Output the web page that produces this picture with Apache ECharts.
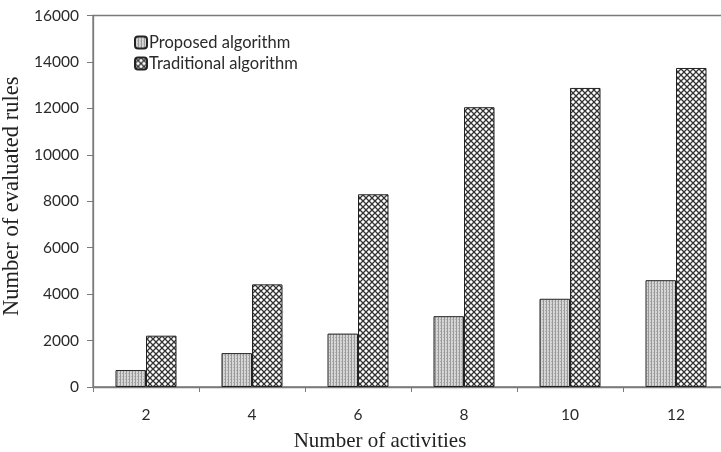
<!DOCTYPE html>
<html>
<head>
<meta charset="utf-8">
<script src="https://cdn.jsdelivr.net/npm/echarts@6/dist/echarts.min.js"></script>
<style>
html,body{margin:0;padding:0;background:#fff;}
#chart{width:721px;height:452px;}
</style>
</head>
<body>
<div id="chart"></div>
<script>
const categories = ['2', '4', '6', '8', '10', '12'];
const proposed = [730, 1460, 2300, 3050, 3800, 4600];
const traditional = [2210, 4420, 8300, 12050, 12880, 13740];
const seriesNames = ['Proposed algorithm', 'Traditional algorithm'];
const yTicks = { min: 0, max: 16000, interval: 2000 };

function makeStipple() {
  const c = document.createElement('canvas');
  c.width = 3; c.height = 3;
  const g = c.getContext('2d');
  g.fillStyle = '#d6d6d6';
  g.fillRect(0, 0, 3, 3);
  g.fillStyle = '#999999';
  g.fillRect(0, 0, 1, 3);
  g.fillStyle = '#b0b0b0';
  g.fillRect(2, 1, 1, 1);
  return c;
}
function makeCross() {
  const s = 6;
  const c = document.createElement('canvas');
  c.width = s; c.height = s;
  const g = c.getContext('2d');
  g.fillStyle = '#ffffff';
  g.fillRect(0, 0, s, s);
  g.strokeStyle = '#333333';
  g.lineWidth = 1.3;
  for (let k = -1; k <= 1; k++) {
    g.beginPath();
    g.moveTo(k * s, 0); g.lineTo(k * s + s, s);
    g.moveTo(k * s + s, 0); g.lineTo(k * s, s);
    g.stroke();
  }
  return c;
}

const chart = echarts.init(document.getElementById('chart'));
const axisGray = '#7a7a7a';
chart.setOption({
  backgroundColor: '#ffffff',
  animation: false,
  grid: {
    left: 93, width: 636, top: 15.5, bottom: 65,
    containLabel: false, outerBoundsMode: 'none',
    show: true, borderColor: axisGray, borderWidth: 1.3, backgroundColor: 'transparent'
  },
  legend: {
    orient: 'vertical',
    left: 134, top: 34, padding: 0,
    itemWidth: 12, itemHeight: 12, itemGap: 4,
    data: seriesNames,
    textStyle: { fontFamily: 'Lato', fontSize: 16.5, color: '#2a2a2a', padding: [0, 0, 0, -3] }
  },
  xAxis: {
    type: 'category',
    data: categories,
    name: 'Number of activities',
    nameLocation: 'middle',
    nameGap: 44,
    nameTextStyle: { fontFamily: 'Liberation Serif', fontSize: 21, color: '#222', padding: [0, 62, 0, 0] },
    axisLine: { lineStyle: { color: axisGray, width: 1.3 } },
    axisTick: { show: true, length: 5, lineStyle: { color: axisGray } },
    axisLabel: { fontFamily: 'Lato', fontSize: 15.5, color: '#2a2a2a', margin: 20 }
  },
  yAxis: {
    type: 'value',
    min: yTicks.min, max: yTicks.max, interval: yTicks.interval,
    name: 'Number of evaluated rules',
    nameLocation: 'middle',
    nameGap: 59,
    nameTextStyle: { fontFamily: 'Liberation Serif', fontSize: 22.5, color: '#222', padding: [0, 0, 0, 10] },
    axisLine: { show: true, lineStyle: { color: axisGray, width: 1.3 } },
    axisTick: { show: true, length: 6, lineStyle: { color: axisGray } },
    splitLine: { show: false },
    axisLabel: { fontFamily: 'Lato', fontSize: 15.5, color: '#2a2a2a', margin: 14, formatter: v => String(v) }
  },
  series: [
    {
      name: seriesNames[0], type: 'bar', data: proposed,
      barWidth: 30.5, barGap: '0%',
      itemStyle: { color: { image: makeStipple(), repeat: 'repeat' }, borderColor: '#222', borderWidth: 1 }
    },
    {
      name: seriesNames[1], type: 'bar', data: traditional,
      barWidth: 30.5, barGap: '0%',
      itemStyle: { color: { image: makeCross(), repeat: 'repeat' }, borderColor: '#222', borderWidth: 1 }
    }
  ]
});
</script>
</body>
</html>
